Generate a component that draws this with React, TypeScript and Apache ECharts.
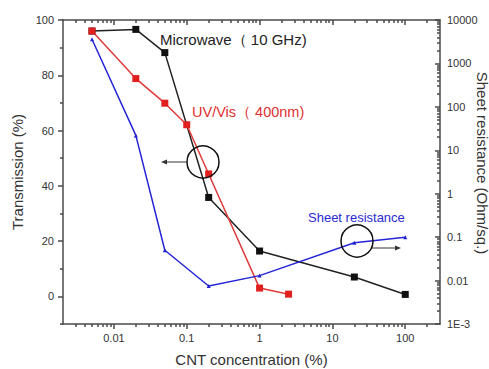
import { useEffect, useRef } from "react";
import * as echarts from "echarts";

// Data
const concMicrowave = [0.005, 0.02, 0.05, 0.2, 1, 20, 100];
const transMicrowave = [96, 96.6, 88.2, 35.8, 16.4, 7.0, 0.7];
const concUV = [0.005, 0.02, 0.05, 0.1, 0.2, 1, 2.5];
const transUV = [96, 78.8, 69.9, 62.1, 44.3, 3.0, 0.8];
const concSheet = [0.005, 0.02, 0.05, 0.2, 1, 20, 100];
const sheetRes = [3600, 22, 0.05, 0.0075, 0.013, 0.074, 0.1];

// Axis ticks
const xTickValues = [0.01, 0.1, 1, 10, 100];
const xTickLabels = ["0.01", "0.1", "1", "10", "100"];
const leftTickValues = [0, 20, 40, 60, 80, 100];
const leftMinorValues = [-10, 10, 30, 50, 70, 90];
const rightTickValues = [0.001, 0.01, 0.1, 1, 10, 100, 1000, 10000];
const rightTickLabels = ["1E-3", "0.01", "0.1", "1", "10", "100", "1000", "10000"];

const X_MIN = 0.002;
const X_MAX = 300;
const R_MIN = 0.001;
const R_MAX = 10000;

const FONT = '"Liberation Sans", Arial, sans-serif';
const AXIS_COLOR = "#4a4a4a";
const TEXT_COLOR = "#333";

function minorLogValues(lo: number, hi: number): number[] {
  const out: number[] = [];
  for (let n = -4; n <= 4; n++) {
    for (let k = 2; k <= 9; k++) {
      const v = k * Math.pow(10, n);
      if (v > lo * 1.0001 && v < hi * 0.9999) out.push(Math.log10(v));
    }
  }
  return out;
}

const lg = (v: number) => Math.log10(v);

function labelFor(values: number[], labels: string[], val: number): string {
  const i = values.findIndex((v) => Math.abs(Math.log10(v) - val) < 1e-6);
  return i >= 0 ? labels[i] : "";
}

export default function App() {
  const ref = useRef<HTMLDivElement>(null);

  useEffect(() => {
    if (!ref.current) return;
    const chart = echarts.init(ref.current, undefined, { renderer: "svg" });

    const xMin = lg(X_MIN);
    const xMax = lg(X_MAX);
    const xMajor = xTickValues.map(lg);
    const xMinor = minorLogValues(X_MIN, X_MAX);
    const rMajor = rightTickValues.map(lg);
    const rMinor = minorLogValues(R_MIN, R_MAX);

    const lineStyle = { color: AXIS_COLOR, width: 1.5 };
    const hiddenLine = { show: false, onZero: false };
    const hidden = { show: false };

    const baseX = {
      type: "value" as const,
      min: xMin,
      max: xMax,
      splitLine: hidden,
    };

    const option: any = {
      animation: false,
      textStyle: { fontFamily: FONT },
      grid: {
        left: 63,
        top: 20,
        right: 49,
        bottom: 45,
        containLabel: false,
        outerBoundsMode: "none",
      },
      xAxis: [
        {
          ...baseX,
          position: "bottom",
          axisLine: { show: true, onZero: false, lineStyle },
          axisTick: { show: true, length: 5, inside: false, customValues: xMajor, lineStyle },
          axisLabel: {
            show: true,
            customValues: xMajor,
            margin: 8,
            color: TEXT_COLOR,
            fontSize: 11,
            fontFamily: FONT,
            formatter: (v: number) => labelFor(xTickValues, xTickLabels, v),
          },
          name: "CNT concentration (%)",
          nameLocation: "middle",
          nameGap: 28,
          nameMoveOverlap: false,
          nameTextStyle: { color: TEXT_COLOR, fontSize: 15, fontFamily: FONT },
        },
        {
          ...baseX,
          position: "bottom",
          axisLine: hiddenLine,
          axisTick: { show: true, length: 3, inside: false, customValues: xMinor, lineStyle },
          axisLabel: hidden,
        },
        {
          ...baseX,
          position: "top",
          axisLine: { show: true, onZero: false, lineStyle },
          axisTick: { show: true, length: 5, inside: true, customValues: xMajor, lineStyle },
          axisLabel: hidden,
        },
        {
          ...baseX,
          position: "top",
          axisLine: hiddenLine,
          axisTick: { show: true, length: 3, inside: true, customValues: xMinor, lineStyle },
          axisLabel: hidden,
        },
      ],
      yAxis: [
        {
          type: "value",
          position: "left",
          min: -10,
          max: 100,
          splitLine: hidden,
          axisLine: { show: true, onZero: false, lineStyle },
          axisTick: { show: true, length: 5, inside: false, customValues: leftTickValues, lineStyle },
          axisLabel: {
            show: true,
            customValues: leftTickValues,
            margin: 9,
            color: TEXT_COLOR,
            fontSize: 11,
            fontFamily: FONT,
          },
          name: "Transmission (%)",
          nameLocation: "middle",
          nameGap: 38,
          nameMoveOverlap: false,
          nameTextStyle: { color: TEXT_COLOR, fontSize: 15, fontFamily: FONT },
        },
        {
          type: "value",
          position: "right",
          min: lg(R_MIN),
          max: lg(R_MAX),
          splitLine: hidden,
          axisLine: { show: true, onZero: false, lineStyle },
          axisTick: { show: true, length: 5, inside: true, customValues: rMajor, lineStyle },
          axisLabel: {
            show: true,
            customValues: rMajor,
            margin: 7,
            color: TEXT_COLOR,
            fontSize: 11,
            fontFamily: FONT,
            formatter: (v: number) => labelFor(rightTickValues, rightTickLabels, v),
          },
        },
        {
          type: "value",
          position: "left",
          min: -10,
          max: 100,
          splitLine: hidden,
          axisLine: hiddenLine,
          axisTick: { show: true, length: 3, inside: false, customValues: leftMinorValues, lineStyle },
          axisLabel: hidden,
        },
        {
          type: "value",
          position: "right",
          min: lg(R_MIN),
          max: lg(R_MAX),
          splitLine: hidden,
          axisLine: hiddenLine,
          axisTick: { show: true, length: 3, inside: true, customValues: rMinor, lineStyle },
          axisLabel: hidden,
        },
      ],
      series: [
        {
          name: "Microwave",
          type: "line",
          xAxisIndex: 0,
          yAxisIndex: 0,
          data: concMicrowave.map((c, i) => [lg(c), transMicrowave[i]]),
          symbol: "rect",
          symbolSize: 7,
          itemStyle: { color: "#111" },
          lineStyle: { color: "#222", width: 1.5 },
          z: 3,
        },
        {
          name: "UV/Vis",
          type: "line",
          xAxisIndex: 0,
          yAxisIndex: 0,
          data: concUV.map((c, i) => [lg(c), transUV[i]]),
          symbol: "rect",
          symbolSize: 7,
          itemStyle: { color: "#e01f1f" },
          lineStyle: { color: "#e03a3a", width: 1.5 },
          z: 4,
        },
        {
          name: "Sheet resistance",
          type: "line",
          xAxisIndex: 0,
          yAxisIndex: 1,
          data: concSheet.map((c, i) => [lg(c), lg(sheetRes[i])]),
          symbol: "triangle",
          symbolSize: 4,
          itemStyle: { color: "#2020d0" },
          lineStyle: { color: "#2525d5", width: 1.5 },
          z: 5,
        },
      ],
      graphic: [
        {
          type: "text",
          x: 482,
          y: 163,
          rotation: -Math.PI / 2,
          style: {
            text: "Sheet resistance (Ohm/sq.)",
            fill: TEXT_COLOR,
            fontSize: 15,
            fontFamily: FONT,
            align: "center",
            verticalAlign: "middle",
          },
          z: 10,
        },
        {
          type: "text",
          x: 160,
          y: 39,
          style: {
            text: "Microwave（ 10 GHz)",
            fill: "#222",
            fontSize: 15,
            fontFamily: FONT,
            verticalAlign: "middle",
          },
          z: 10,
        },
        {
          type: "text",
          x: 192,
          y: 112,
          style: {
            text: "UV/Vis（ 400nm)",
            fill: "#e03030",
            fontSize: 14.5,
            fontFamily: FONT,
            verticalAlign: "middle",
          },
          z: 10,
        },
        {
          type: "text",
          x: 308,
          y: 217,
          style: {
            text: "Sheet resistance",
            fill: "#2a2ad0",
            fontSize: 13,
            fontFamily: FONT,
            verticalAlign: "middle",
          },
          z: 10,
        },
        {
          type: "circle",
          shape: { cx: 203, cy: 162, r: 16 },
          style: { fill: "none", stroke: "#111", lineWidth: 1.5 },
          z: 10,
        },
        {
          type: "line",
          shape: { x1: 187, y1: 162, x2: 164, y2: 162 },
          style: { stroke: "#333", lineWidth: 1 },
          z: 10,
        },
        {
          type: "polygon",
          shape: { points: [[161, 162], [167, 159.5], [167, 164.5]] },
          style: { fill: "#333" },
          z: 10,
        },
        {
          type: "circle",
          shape: { cx: 357, cy: 241, r: 16 },
          style: { fill: "none", stroke: "#111", lineWidth: 1.5 },
          z: 10,
        },
        {
          type: "line",
          shape: { x1: 372, y1: 248, x2: 397, y2: 248 },
          style: { stroke: "#333", lineWidth: 1 },
          z: 10,
        },
        {
          type: "polygon",
          shape: { points: [[401, 248], [395, 245.5], [395, 250.5]] },
          style: { fill: "#333" },
          z: 10,
        },
      ],
    };

    chart.setOption(option);
    return () => chart.dispose();
  }, []);

  return (
    <div
      ref={ref}
      style={{ position: "fixed", left: 0, top: 0, width: 489, height: 369, background: "#fff" }}
    />
  );
}
